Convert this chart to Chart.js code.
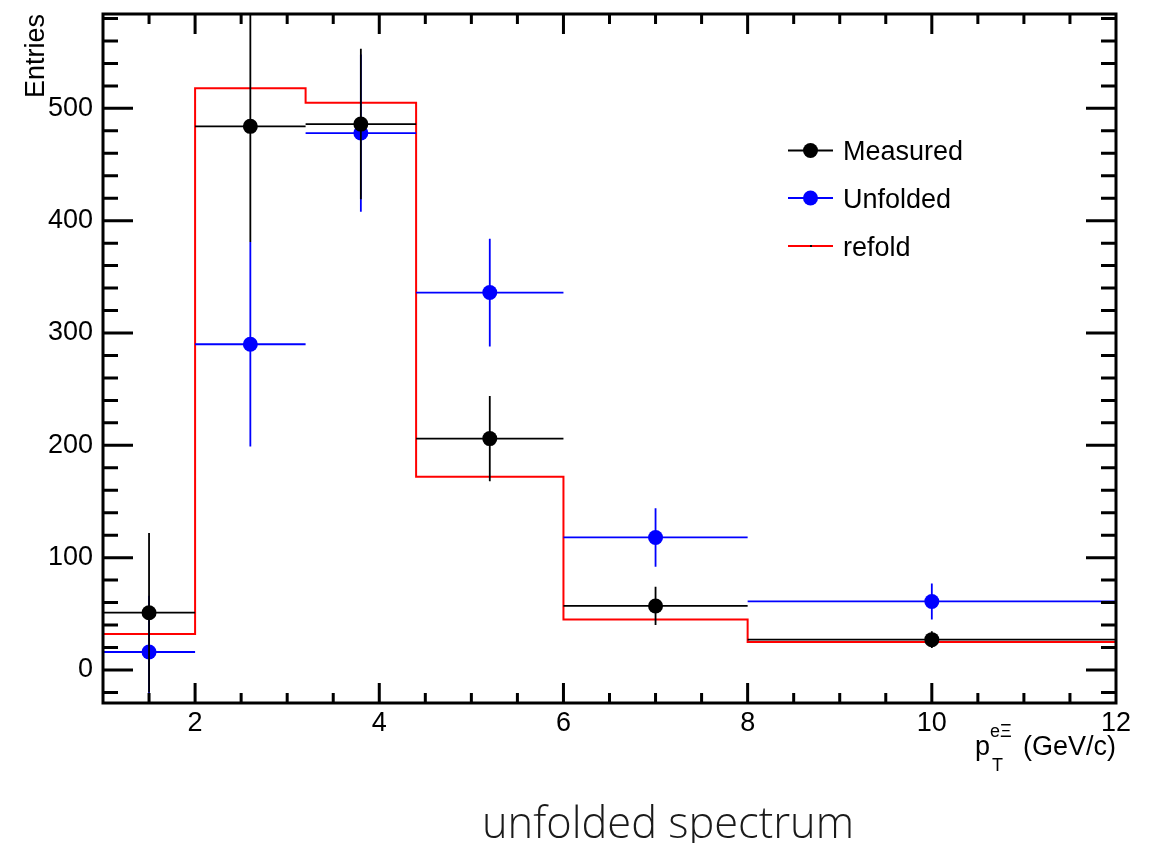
<!DOCTYPE html>
<html>
<head>
<meta charset="utf-8">
<title>unfolded spectrum</title>
<script src="https://cdn.jsdelivr.net/npm/chart.js@4/dist/chart.umd.min.js"></script>
<style>
  html, body { margin: 0; padding: 0; background: #fff; }
</style>
</head>
<body>
<canvas id="myChart" width="1157" height="843"></canvas>
<script>
// bin edges and centres in pT (GeV/c)
var binEdges = [1, 2, 3.2, 4.4, 6, 8, 12];
var binCenters = [1.5, 2.6, 3.8, 5.2, 7, 10];

// series
var measured = [51, 484, 486, 206, 57, 27];
var measuredErr = [71, 103, 67, 38, 17, 7.5];
var unfolded = [16, 290, 478, 336, 118, 61];
var unfoldedErr = [50, 91, 70, 48, 26, 16];
var refold = [32, 518, 505, 172, 45, 25];

// axis ticks
var xTicks = [2, 4, 6, 8, 10, 12];
var yTicks = [0, 100, 200, 300, 400, 500];

var FONT = '"Liberation Sans", Arial, Helvetica, sans-serif';

function points(xs, ys) {
  return xs.map(function (x, i) { return { x: x, y: ys[i] }; });
}

// step line for the refold histogram, last value repeated at the right edge
var refoldSteps = binEdges.map(function (e, i) {
  return { x: e, y: refold[Math.min(i, refold.length - 1)] };
});

var errors = {
  0: { lo: binEdges.slice(0, -1), hi: binEdges.slice(1), err: measuredErr },
  1: { lo: binEdges.slice(0, -1), hi: binEdges.slice(1), err: unfoldedErr }
};

// draws error bars right before each dataset's markers
var errorBars = {
  id: 'errorBars',
  beforeDatasetDraw: function (chart, args) {
    var e = errors[args.index];
    if (!e) return;
    var ds = chart.data.datasets[args.index];
    var x = chart.scales.x, y = chart.scales.y, a = chart.chartArea;
    var ctx = chart.ctx;
    ctx.save();
    ctx.beginPath();
    ctx.rect(a.left, a.top, a.right - a.left, a.bottom - a.top);
    ctx.clip();
    ctx.strokeStyle = ds.backgroundColor;
    ctx.lineWidth = 1.8;
    ds.data.forEach(function (p, i) {
      var px = x.getPixelForValue(p.x), py = y.getPixelForValue(p.y);
      ctx.beginPath();
      ctx.moveTo(x.getPixelForValue(e.lo[i]), py);
      ctx.lineTo(x.getPixelForValue(e.hi[i]), py);
      ctx.moveTo(px, y.getPixelForValue(p.y - e.err[i]));
      ctx.lineTo(px, y.getPixelForValue(p.y + e.err[i]));
      ctx.stroke();
    });
    ctx.restore();
  }
};

// ROOT style frame with ticks on all four sides, legend and titles
var rootFrame = {
  id: 'rootFrame',
  afterDraw: function (chart) {
    var ctx = chart.ctx, a = chart.chartArea;
    var x = chart.scales.x, y = chart.scales.y;
    ctx.save();
    ctx.strokeStyle = '#000';
    ctx.lineWidth = 3;
    ctx.strokeRect(a.left, a.top, a.right - a.left, a.bottom - a.top);

    ctx.beginPath();
    var v, px, py, len;
    for (v = -20; v <= y.max; v += 20) {
      py = y.getPixelForValue(v);
      len = (v % 100 === 0) ? 30 : 15;
      ctx.moveTo(a.left, py); ctx.lineTo(a.left + len, py);
      ctx.moveTo(a.right, py); ctx.lineTo(a.right - len, py);
    }
    for (v = 1.5; v < x.max; v += 0.5) {
      px = x.getPixelForValue(v);
      len = (v % 2 === 0) ? 20 : 10;
      ctx.moveTo(px, a.bottom); ctx.lineTo(px, a.bottom - len);
      ctx.moveTo(px, a.top); ctx.lineTo(px, a.top + len);
    }
    ctx.stroke();

    // legend
    var items = chart.data.datasets;
    var ly = [150.5, 198, 246];
    items.forEach(function (ds, i) {
      ctx.strokeStyle = ds.borderColor;
      ctx.lineWidth = 1.8;
      ctx.beginPath();
      ctx.moveTo(788, ly[i]); ctx.lineTo(833, ly[i]);
      ctx.stroke();
      if (ds.pointRadius > 0) {
        ctx.fillStyle = ds.backgroundColor;
        ctx.beginPath();
        ctx.arc(810.5, ly[i], 7.5, 0, Math.PI * 2);
        ctx.fill();
      } else {
        ctx.fillStyle = '#000';
        ctx.fillRect(810, ly[i] - 1, 2, 2);
      }
      ctx.fillStyle = '#000';
      ctx.font = '27px ' + FONT;
      ctx.textAlign = 'left';
      ctx.textBaseline = 'alphabetic';
      ctx.fillText(ds.label, 843, ly[i] + 9.5);
    });

    // y title
    ctx.save();
    ctx.translate(44, 14);
    ctx.rotate(-Math.PI / 2);
    ctx.font = '27px ' + FONT;
    ctx.textAlign = 'right';
    ctx.fillText('Entries', 0, 0);
    ctx.restore();

    // x title
    ctx.textAlign = 'left';
    ctx.font = '27px ' + FONT;
    ctx.fillText('p', 975, 755);
    ctx.font = '18px ' + FONT;
    ctx.fillText('e\u039E', 990, 737);
    ctx.fillText('T', 992, 771);
    ctx.font = '27px ' + FONT;
    ctx.textAlign = 'right';
    ctx.fillText('(GeV/c)', 1116, 755);

    // caption under the plot
    ctx.font = '300 44px "Open Sans", "Noto Sans", sans-serif';
    ctx.textAlign = 'left';
    ctx.fillStyle = '#1a1a1a';
    var w = ctx.measureText('unfolded spectrum').width;
    ctx.translate(482, 838);
    ctx.scale(372 / w, 1);
    ctx.fillText('unfolded spectrum', 0, 0);
    ctx.restore();
  }
};

var ctx = document.getElementById('myChart').getContext('2d');

var myChart = new Chart(ctx, {
  type: 'scatter',
  data: {
    datasets: [{
      label: 'Measured',
      data: points(binCenters, measured),
      pointRadius: 7.5,
      pointHoverRadius: 7.5,
      pointBorderWidth: 0,
      backgroundColor: '#000000',
      borderColor: '#000000',
      showLine: false
    }, {
      label: 'Unfolded',
      data: points(binCenters, unfolded),
      pointRadius: 7.5,
      pointHoverRadius: 7.5,
      pointBorderWidth: 0,
      backgroundColor: '#0000ff',
      borderColor: '#0000ff',
      showLine: false
    }, {
      label: 'refold',
      type: 'line',
      data: refoldSteps,
      stepped: 'before',
      borderColor: '#ff0000',
      backgroundColor: '#ff0000',
      borderWidth: 2,
      pointRadius: 0,
      fill: false
    }]
  },
  options: {
    responsive: false,
    animation: false,
    events: [],
    layout: { padding: { top: 14, right: 41, left: 0, bottom: 0 } },
    plugins: {
      legend: { display: false },
      tooltip: { enabled: false }
    },
    scales: {
      x: {
        type: 'linear',
        min: 1,
        max: 12,
        grid: { display: false, drawTicks: false },
        border: { display: false },
        afterBuildTicks: function (s) { s.ticks = xTicks.map(function (v) { return { value: v }; }); },
        afterFit: function (s) { s.height = 140; s.paddingLeft = 0; s.paddingRight = 0; },
        ticks: {
          color: '#000',
          font: { family: FONT, size: 27 },
          padding: 4,
          maxRotation: 0,
          autoSkip: false
        }
      },
      y: {
        min: -29.4,
        max: 584,
        grid: { display: false, drawTicks: false },
        border: { display: false },
        afterBuildTicks: function (s) { s.ticks = yTicks.map(function (v) { return { value: v }; }); },
        afterFit: function (s) { s.width = 103; s.paddingTop = 0; s.paddingBottom = 0; },
        ticks: {
          color: '#000',
          font: { family: FONT, size: 27 },
          padding: 10,
          autoSkip: false
        }
      }
    }
  },
  plugins: [errorBars, rootFrame]
});
</script>
</body>
</html>
